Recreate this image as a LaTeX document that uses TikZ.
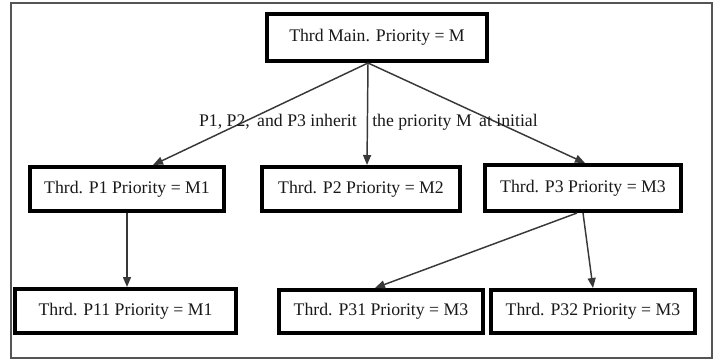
\documentclass[tikz,border=0pt]{standalone}
\usepackage{fontspec}
\setmainfont{Liberation Serif}
\usetikzlibrary{arrows.meta,calc}
\definecolor{arrowgray}{HTML}{383838}
\definecolor{framegray}{HTML}{555555}
\tikzset{
  thrdbox/.style={draw=black, line width=3pt, fill=white, inner sep=0pt,
    font=\fontsize{13.3}{16}\selectfont, text=black!90},
  conn/.style={draw=arrowgray, line width=1.1pt, -{Triangle[length=7.5pt,width=6pt]}},
  lbl/.style={inner sep=0pt, font=\fontsize{13.3}{16}\selectfont, text=black!90}
}
\begin{document}
\begin{tikzpicture}[x=0.75pt,y=-0.75pt]
\useasboundingbox (0,0) rectangle (721,360);
\draw[framegray, line width=0.8pt] (11,3) rectangle (712,358);
\node[thrdbox, minimum width=165pt, minimum height=35.25pt] (main) at (377,37.5) {Thrd Main. Priority = M};
\node[thrdbox, minimum width=145.5pt, minimum height=33pt] (p1) at (127,189) {Thrd. P1 Priority = M1};
\node[thrdbox, minimum width=148.5pt, minimum height=33pt] (p2) at (361,189) {Thrd. P2 Priority = M2};
\node[thrdbox, minimum width=147pt, minimum height=34.5pt] (p3) at (583,188) {Thrd. P3 Priority = M3};
\node[thrdbox, minimum width=165.75pt, minimum height=33pt] (p11) at (125.5,311) {Thrd. P11 Priority = M1};
\node[thrdbox, minimum width=153pt, minimum height=32.25pt] (p31) at (381,311.5) {Thrd. P31 Priority = M3};
\node[thrdbox, minimum width=153pt, minimum height=32.25pt] (p32) at (593,311.5) {Thrd. P32 Priority = M3};
\coordinate (mainout) at ($(main.south)+(-9,0)$);
\draw[conn] (mainout) -- ($(p1.north)+(26,0)$);
\draw[conn] (mainout) -- ($(p2.north)+(6,0)$);
\draw[conn] (mainout) -- ($(p3.north)+(2,0)$);
\draw[conn] (p1.south) -- (p1.south |- p11.north);
\draw[conn] ($(p3.south)+(-6,0)$) -- ($(p31.north)+(-6,0)$);
\draw[conn] (p3.south) -- (p32.north);
\node[lbl, anchor=base east] (lblA) at (357,127) {P1, P2,\, and P3 inherit};
\node[lbl, anchor=base west] (lblB) at (372,127) {the priority M\, at initial};
\end{tikzpicture}
\end{document}
